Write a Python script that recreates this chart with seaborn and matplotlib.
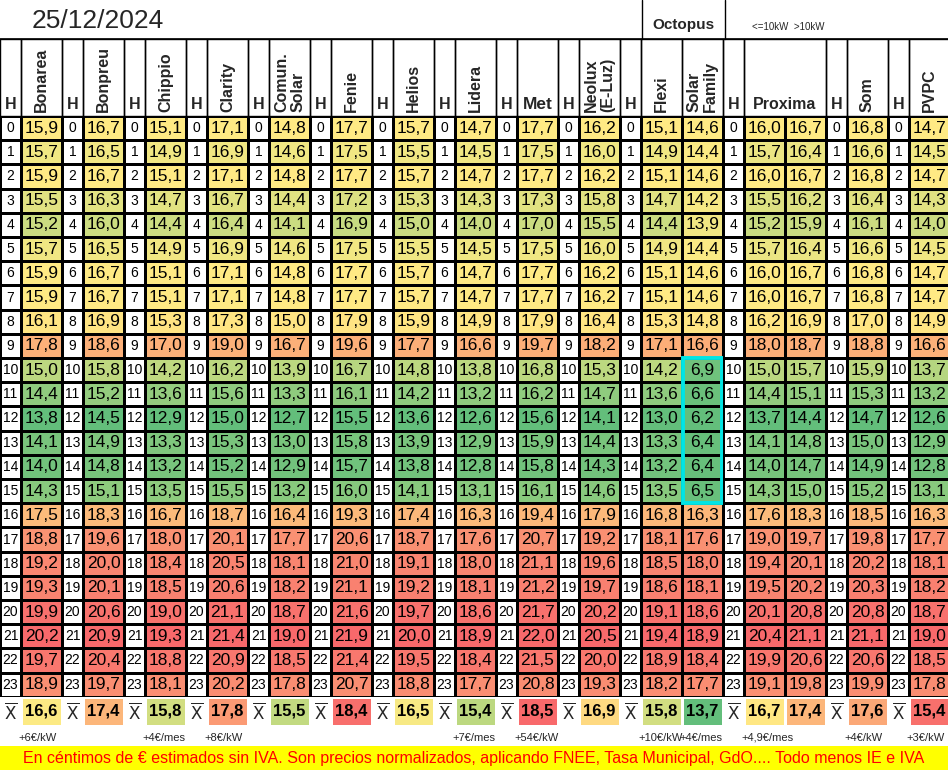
import numpy as np
import pandas as pd
import matplotlib
matplotlib.use("Agg")
import matplotlib.pyplot as plt
import seaborn as sns
from matplotlib.colors import LinearSegmentedColormap, ListedColormap
from matplotlib.patches import Rectangle
from matplotlib.lines import Line2D

sns.set_theme(style="white")
plt.rcParams['font.family'] = ['Liberation Sans', 'DejaVu Sans']

date_title = "25/12/2024"
hours = list(range(24))
providers = ["Bonarea", "Bonpreu", "Chippio", "Clarity", "Comun.\nSolar", "Fenie", "Helios",
             "Lidera", "Met", "Neolux\n(E-Luz)", "Flexi", "Solar\nFamily", "Proxima1", "Proxima2",
             "Som", "PVPC"]
bonarea = [15.9,15.7,15.9,15.5,15.2,15.7,15.9,15.9,16.1,17.8,15.0,14.4,13.8,14.1,14.0,14.3,17.5,18.8,19.2,19.3,19.9,20.2,19.7,18.9]
bonpreu = [16.7,16.5,16.7,16.3,16.0,16.5,16.7,16.7,16.9,18.6,15.8,15.2,14.5,14.9,14.8,15.1,18.3,19.6,20.0,20.1,20.6,20.9,20.4,19.7]
chippio = [15.1,14.9,15.1,14.7,14.4,14.9,15.1,15.1,15.3,17.0,14.2,13.6,12.9,13.3,13.2,13.5,16.7,18.0,18.4,18.5,19.0,19.3,18.8,18.1]
clarity = [17.1,16.9,17.1,16.7,16.4,16.9,17.1,17.1,17.3,19.0,16.2,15.6,15.0,15.3,15.2,15.5,18.7,20.1,20.5,20.6,21.1,21.4,20.9,20.2]
comun_solar = [14.8,14.6,14.8,14.4,14.1,14.6,14.8,14.8,15.0,16.7,13.9,13.3,12.7,13.0,12.9,13.2,16.4,17.7,18.1,18.2,18.7,19.0,18.5,17.8]
fenie = [17.7,17.5,17.7,17.2,16.9,17.5,17.7,17.7,17.9,19.6,16.7,16.1,15.5,15.8,15.7,16.0,19.3,20.6,21.0,21.1,21.6,21.9,21.4,20.7]
helios = [15.7,15.5,15.7,15.3,15.0,15.5,15.7,15.7,15.9,17.7,14.8,14.2,13.6,13.9,13.8,14.1,17.4,18.7,19.1,19.2,19.7,20.0,19.5,18.8]
lidera = [14.7,14.5,14.7,14.3,14.0,14.5,14.7,14.7,14.9,16.6,13.8,13.2,12.6,12.9,12.8,13.1,16.3,17.6,18.0,18.1,18.6,18.9,18.4,17.7]
met = [17.7,17.5,17.7,17.3,17.0,17.5,17.7,17.7,17.9,19.7,16.8,16.2,15.6,15.9,15.8,16.1,19.4,20.7,21.1,21.2,21.7,22.0,21.5,20.8]
neolux = [16.2,16.0,16.2,15.8,15.5,16.0,16.2,16.2,16.4,18.2,15.3,14.7,14.1,14.4,14.3,14.6,17.9,19.2,19.6,19.7,20.2,20.5,20.0,19.3]
flexi = [15.1,14.9,15.1,14.7,14.4,14.9,15.1,15.1,15.3,17.1,14.2,13.6,13.0,13.3,13.2,13.5,16.8,18.1,18.5,18.6,19.1,19.4,18.9,18.2]
solar_family = [14.6,14.4,14.6,14.2,13.9,14.4,14.6,14.6,14.8,16.6,6.9,6.6,6.2,6.4,6.4,6.5,16.3,17.6,18.0,18.1,18.6,18.9,18.4,17.7]
proxima1 = [16.0,15.7,16.0,15.5,15.2,15.7,16.0,16.0,16.2,18.0,15.0,14.4,13.7,14.1,14.0,14.3,17.6,19.0,19.4,19.5,20.1,20.4,19.9,19.1]
proxima2 = [16.7,16.4,16.7,16.2,15.9,16.4,16.7,16.7,16.9,18.7,15.7,15.1,14.4,14.8,14.7,15.0,18.3,19.7,20.1,20.2,20.8,21.1,20.6,19.8]
som = [16.8,16.6,16.8,16.4,16.1,16.6,16.8,16.8,17.0,18.8,15.9,15.3,14.7,15.0,14.9,15.2,18.5,19.8,20.2,20.3,20.8,21.1,20.6,19.9]
pvpc = [14.7,14.5,14.7,14.3,14.0,14.5,14.7,14.7,14.9,16.6,13.7,13.2,12.6,12.9,12.8,13.1,16.3,17.7,18.1,18.2,18.7,19.0,18.5,17.8]
series = [bonarea, bonpreu, chippio, clarity, comun_solar, fenie, helios, lidera, met, neolux,
          flexi, solar_family, proxima1, proxima2, som, pvpc]
means = [16.6,17.4,15.8,17.8,15.5,18.4,16.5,15.4,18.5,16.9,15.8,13.7,16.7,17.4,17.6,15.4]
footers = ["+6€/kW","","+4€/mes","+8€/kW","","","","+7€/mes","+54€/kW","","+10€/kW","+4€/mes",
           "+4,9€/mes","","+4€/kW","+3€/kW"]

cmap = LinearSegmentedColormap.from_list("xl", ["#63BE7B", "#FFEB84", "#F8696B"])
white = ListedColormap(["white"])

def scale(vals):
    a = np.array(vals, float)
    mn, md, mx = a.min(), np.median(a), a.max()
    return np.where(a <= md, 0.5 * (a - mn) / (md - mn), 0.5 + 0.5 * (a - md) / (mx - md))

W, Hh = 948, 770
fig = plt.figure(figsize=(W / 100, Hh / 100), dpi=100)

def ax_px(x0, y0, w, h):
    return fig.add_axes([x0 / W, 1 - (y0 + h) / Hh, w / W, h / Hh])

groups = [[0],[1],[2],[3],[4],[5],[6],[7],[8],[9],[10,11],[12,13],[14],[15]]
HW, DW = 21, 41
y_head, y_rows, row_h = 39, 116, 24.2
y_mean = y_rows + 24 * row_h
mean_h = 29
num_font = 12.5
mean_norm = scale(means)
mean_norm[15] = 0.97  # PVPC highlighted in red in the reference

col_x = {}
x = 0
def rect_px(x0, y0, w, h, **kw):
    fig.add_artist(Rectangle((x0 / W, 1 - (y0 + h) / Hh), w / W, h / Hh,
                             transform=fig.transFigure, **kw))

for g in groups:
    hax = ax_px(x, y_rows, HW, 24 * row_h)
    sns.heatmap(pd.DataFrame({"H": np.zeros(24)}), ax=hax, cmap=white, cbar=False,
                annot=np.array(hours).reshape(-1, 1), fmt="d", linewidths=1, linecolor="black",
                annot_kws={"fontsize": 10, "color": "black"})
    hax.set_axis_off()
    rect_px(x, y_head, HW, y_rows - y_head, fill=False, ec="black", lw=1)
    fig.text((x + HW / 2) / W, 1 - (y_rows - 4) / Hh, "H", ha="center", va="bottom",
             fontsize=11.5, fontweight="bold")
    fig.text((x + HW / 2) / W, 1 - (y_mean + mean_h / 2) / Hh, r"$\overline{\mathrm{X}}$",
             ha="center", va="center", fontsize=12)
    x += HW
    for ci in g:
        col_x[ci] = x
        vals = series[ci]
        dax = ax_px(x, y_rows, DW, 24 * row_h)
        labels = np.array([f"{v:.1f}".replace(".", ",") for v in vals]).reshape(-1, 1)
        sns.heatmap(pd.DataFrame({"v": scale(vals)}), ax=dax, cmap=cmap, vmin=0, vmax=1,
                    cbar=False, annot=labels, fmt="", linewidths=1, linecolor="black",
                    annot_kws={"fontsize": num_font, "color": "black"})
        dax.set_axis_off()
        if ci == 11:
            dax.add_patch(Rectangle((0.03, 10), 0.94, 6, fill=False, ec="#00E5E5", lw=2.8,
                                    clip_on=False, zorder=5))
        max_ = ax_px(x, y_mean, DW, mean_h)
        sns.heatmap(pd.DataFrame({"m": [mean_norm[ci]]}), ax=max_, cmap=cmap, vmin=0, vmax=1,
                    cbar=False, annot=np.array([[f"{means[ci]:.1f}".replace(".", ",")]]), fmt="",
                    linewidths=2, linecolor="white",
                    annot_kws={"fontsize": 12, "fontweight": "bold", "color": "black"})
        max_.set_axis_off()
        if footers[ci]:
            fig.text((x - 3) / W, 1 - 738 / Hh, footers[ci], ha="left", va="center", fontsize=8)
        x += DW
    gx = col_x[g[0]]
    gw = DW * len(g)
    if g == [12, 13]:
        rect_px(gx, y_head, gw, y_rows - y_head, fill=False, ec="black", lw=1)
        fig.text((gx + gw / 2) / W, 1 - (y_rows - 4) / Hh, "Proxima", ha="center", va="bottom",
                 fontsize=11.5, fontweight="bold")
    else:
        for ci in g:
            cx = col_x[ci]
            rect_px(cx, y_head, DW, y_rows - y_head, fill=False, ec="black", lw=1)
            name = providers[ci]
            if name == "Met":
                fig.text((cx + DW / 2) / W, 1 - (y_rows - 4) / Hh, name, ha="center",
                         va="bottom", fontsize=12.5, fontweight="bold")
            else:
                fig.text((cx + DW / 2) / W, 1 - (y_rows - 4) / Hh, name, ha="center",
                         va="bottom", rotation=90, fontsize=11.5, fontweight="bold",
                         multialignment="left", linespacing=1.1)

fig.add_artist(Line2D([0, 1], [1 - y_head / Hh] * 2, color="black", lw=1.2,
                      transform=fig.transFigure))
for xv in (642, 725):
    fig.add_artist(Line2D([xv / W] * 2, [1, 1 - y_head / Hh], color="black", lw=1,
                          transform=fig.transFigure))
fig.text(32 / W, 1 - 21 / Hh, date_title, fontsize=19, va="center", ha="left")
fig.text(683 / W, 1 - 25 / Hh, "Octopus", fontsize=11, fontweight="bold", ha="center",
         va="center")
fig.text(752 / W, 1 - 27 / Hh, "<=10kW  >10kW", fontsize=7, ha="left", va="center")

rect_px(0, 746, W, 24, color="#FFFF00", ec="none")
fig.text(0.5, 1 - 758 / Hh,
         "En céntimos de € estimados sin IVA. Son precios normalizados, aplicando FNEE, Tasa Municipal, GdO.... Todo menos IE e IVA",
         ha="center", va="center", fontsize=11.5, color="#FF0000")

fig.savefig("out.png", dpi=100, facecolor="white")
